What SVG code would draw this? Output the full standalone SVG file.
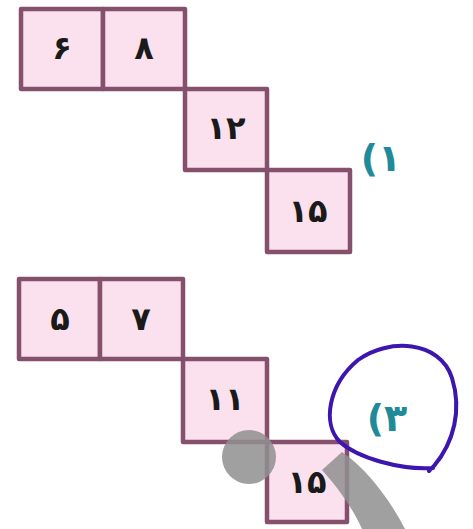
<svg xmlns="http://www.w3.org/2000/svg" width="473" height="529" viewBox="0 0 473 529">
<style>
.box{fill:#fbe1ee;stroke:#84506b;stroke-width:4.5;stroke-linejoin:round}
.num{font-family:"DejaVu Sans","Noto Sans",sans-serif;font-weight:bold;font-size:32px;fill:#1a1a1a;text-anchor:middle;dominant-baseline:central}
.lbl{font-family:"DejaVu Sans","Noto Sans",sans-serif;font-weight:bold;font-size:38px;fill:#1f8a99;text-anchor:middle;dominant-baseline:central;letter-spacing:3px}
</style>
<rect width="473" height="529" fill="#ffffff"/>
<g id="set1">
<g id="n6"><rect class="box" x="21" y="9" width="82" height="80"/><text class="num" x="62" y="48">۶</text></g>
<g id="n8"><rect class="box" x="103" y="9" width="82" height="80"/><text class="num" x="144" y="48">۸</text></g>
<g id="n12"><rect class="box" x="185" y="89" width="82" height="81"/><text class="num" x="226" y="128">۱۲</text></g>
<g id="n15a"><rect class="box" x="267" y="170" width="83" height="82"/><text class="num" x="308" y="211">۱۵</text></g>
<g id="lbl1"><text class="lbl" x="381" y="158">(۱</text></g>
</g>
<g id="set2">
<g id="n5"><rect class="box" x="19" y="279" width="81" height="80"/><text class="num" x="60" y="319">۵</text></g>
<g id="n7"><rect class="box" x="100" y="279" width="83" height="80"/><text class="num" x="141" y="319">۷</text></g>
<g id="n11"><rect class="box" x="183" y="359" width="84" height="83"/><text class="num" x="225" y="399">۱۱</text></g>
<g id="n15b"><rect class="box" x="267" y="442" width="80" height="80"/><text class="num" x="307" y="482">۱۵</text></g>
<g id="lbl3"><text class="lbl" x="387" y="418">(۳</text></g>
</g>
<g id="marks">
<circle cx="249" cy="457" r="27" fill="#8f8f8f" opacity="0.85"/>
<path d="M322,470 L342,452 C368,470 390,500 405,529 L362,529 C352,507 338,488 322,470 Z" fill="#8f8f8f" opacity="0.85"/>
<path d="M433,468 C400,470 358,458 340,442 C322,424 328,385 358,360 C388,338 440,340 452,378 C462,410 454,442 434,466 L429,471" fill="none" stroke="#3d16b0" stroke-width="4" stroke-linecap="round"/>
</g>
</svg>
